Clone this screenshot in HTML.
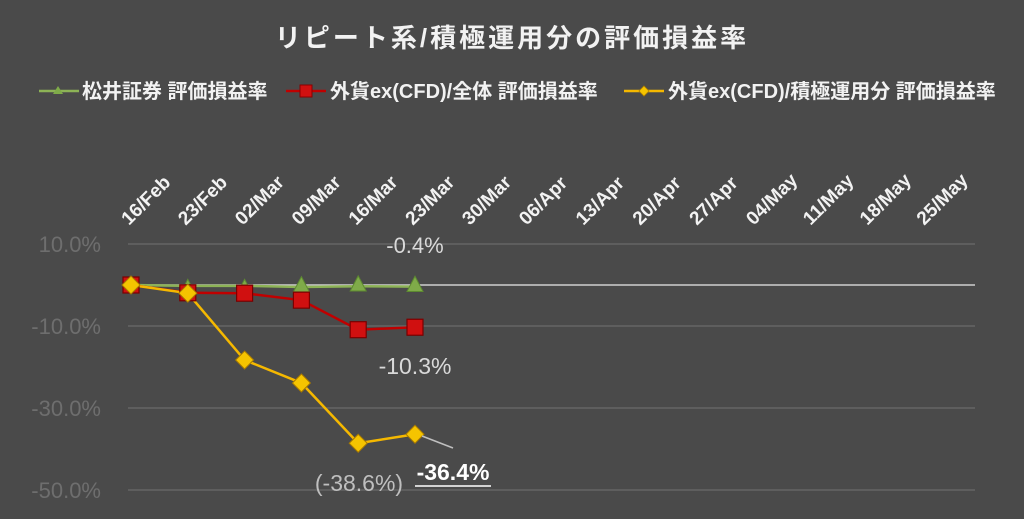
<!DOCTYPE html>
<html><head><meta charset="utf-8"><style>
html,body{margin:0;padding:0;background:#4a4a4a;}
svg{display:block;font-family:"Liberation Sans","Noto Sans CJK JP",sans-serif;}
</style></head><body>
<svg id="chart" width="1024" height="519" viewBox="0 0 1024 519">
<rect width="1024" height="519" fill="#4a4a4a"/>
<text x="512" y="47" text-anchor="middle" fill="#f2f2f2" font-size="26" font-weight="bold" letter-spacing="3">リピート系/積極運用分の評価損益率</text>
<g>
 <g>
  <line x1="39" y1="91" x2="79" y2="91" stroke="#8db356" stroke-width="2.5"/>
  <polygon points="58,86 63,94 53,94" fill="#7fab49"/>
  <text x="82" y="98" fill="#f2f2f2" font-size="20" font-weight="bold">松井証券 評価損益率</text>
 </g>
 <g>
  <line x1="286" y1="91" x2="326" y2="91" stroke="#c00000" stroke-width="2.5"/>
  <rect x="300" y="85" width="12" height="12" fill="#d01010" stroke="#800" stroke-width="1"/>
  <text x="330" y="98" fill="#f2f2f2" font-size="20" font-weight="bold">外貨ex(CFD)/全体 評価損益率</text>
 </g>
 <g>
  <line x1="624" y1="91" x2="664" y2="91" stroke="#f5b800" stroke-width="2.5"/>
  <polygon points="644,86 649,91 644,96 639,91" fill="#f5c400" stroke="#b08000" stroke-width="0.8"/>
  <text x="668" y="98" fill="#f2f2f2" font-size="20" font-weight="bold">外貨ex(CFD)/積極運用分 評価損益率</text>
 </g>
</g>
<g id="grid"></g><g id="xlabels"></g><g id="ylabels"></g><g id="series"></g>
<g>
 <text x="415" y="253" text-anchor="middle" fill="#d9d9d9" font-size="22">-0.4%</text>
 <text x="415" y="374" text-anchor="middle" fill="#d9d9d9" font-size="23">-10.3%</text>
 <text x="359" y="491" text-anchor="middle" fill="#bfbfbf" font-size="23">(-38.6%)</text>
 <line x1="422" y1="436" x2="453" y2="448" stroke="#bfbfbf" stroke-width="1.5"/>
 <text x="453" y="480" text-anchor="middle" fill="#ffffff" font-size="23" font-weight="bold">-36.4%</text>
 <line x1="415" y1="486" x2="491" y2="486" stroke="#ffffff" stroke-width="1.5"/>
</g>
</svg>
<script>
const categories=["16/Feb","23/Feb","02/Mar","09/Mar","16/Mar","23/Mar","30/Mar","06/Apr","13/Apr","20/Apr","27/Apr","04/May","11/May","18/May","25/May"];
const matsui=[0,-0.2,-0.2,-0.5,-0.3,-0.4];
const fxTotal=[0,-1.9,-2.0,-3.7,-10.9,-10.3];
const fxActive=[0,-2.0,-18.3,-23.9,-38.6,-36.4];
const yTicks=[10,-10,-30,-50];
const yTickLabels=["10.0%","-10.0%","-30.0%","-50.0%"];
const NS="http://www.w3.org/2000/svg";
function xS(i){return 131+i*56.8;}
function yS(v){return 285-v*4.1;}
function mk(tag,attrs,parent){const e=document.createElementNS(NS,tag);for(const k in attrs)e.setAttribute(k,attrs[k]);parent.appendChild(e);return e;}
const grid=document.getElementById('grid'),xl=document.getElementById('xlabels'),yl=document.getElementById('ylabels'),ser=document.getElementById('series');
yTicks.forEach((t,i)=>{
 const l=mk('line',{x1:128,x2:975,y1:yS(t),y2:yS(t),stroke:'#6a6a6a','stroke-width':1.3},grid);
 
 
 const tx=mk('text',{x:101,y:yS(t)+8,'text-anchor':'end',fill:'#6e6e6e','font-size':22},yl);
 tx.textContent=yTickLabels[i];
 
 
});
const zl=mk('line',{x1:128,x2:975,y1:yS(0),y2:yS(0),stroke:'#d0d0d0','stroke-width':1.5},grid);


categories.forEach((c,i)=>{
 const x=xS(i)-2,y=226;
 const t=mk('text',{x:x,y:y,fill:'#f2f2f2','font-size':19,'font-weight':'bold',transform:`rotate(-45 ${x} ${y})`},xl);
 t.textContent=c;
 
 
});
function line(data,color,name){
 const p=mk('polyline',{points:data.map((v,i)=>xS(i)+','+yS(v)).join(' '),fill:'none',stroke:color,'stroke-width':2.5},ser);
 
 
}
line(matsui,'#8db356','matsui');
line(fxTotal,'#c00000','fx-total');
line(fxActive,'#f5b800','fx-active');
matsui.forEach((v,i)=>{const x=xS(i),y=yS(v);const s=i<3?5:8;
 const m=mk('polygon',{points:`${x},${y-s*1.3} ${x+s},${y+s*0.6} ${x-s},${y+s*0.6}`,fill:'#7fab49',stroke:'#5d8a30','stroke-width':1},ser);
 
 });
fxTotal.forEach((v,i)=>{const x=xS(i),y=yS(v);
 const m=mk('rect',{x:x-8,y:y-8,width:16,height:16,fill:'#d01010',stroke:'#7a0000','stroke-width':1.2},ser);
 
 });
fxActive.forEach((v,i)=>{const x=xS(i),y=yS(v);
 const m=mk('polygon',{points:`${x},${y-9} ${x+9},${y} ${x},${y+9} ${x-9},${y}`,fill:'#f5c400',stroke:'#a87a00','stroke-width':1},ser);
 
 });
</script>
</body></html>
